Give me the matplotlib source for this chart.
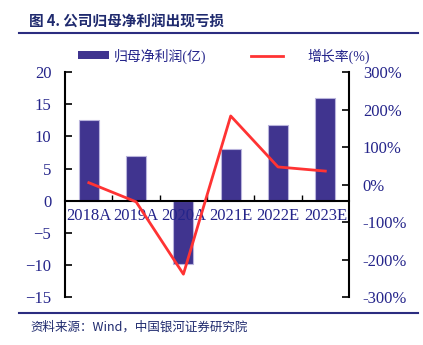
import matplotlib
matplotlib.use("Agg")
import matplotlib.pyplot as plt
from matplotlib.lines import Line2D
from matplotlib.patches import Patch
from matplotlib.ticker import FuncFormatter

plt.rcParams['font.family'] = ['Liberation Serif', 'Noto Sans CJK SC', 'DejaVu Sans']

years = ['2018A', '2019A', '2020A', '2021E', '2022E', '2023E']
profit = [12.6, 6.9, -9.8, 8.1, 11.8, 16.0]      # 归母净利润(亿)
growth = [5, -46, -239, 183, 47, 36]             # 增长率(%)

navy = '#24248a'
bar_c = '#40348f'
red = '#ff3333'

fig = plt.figure(figsize=(4.23, 3.45), dpi=100)
ax = fig.add_axes([0.154, 0.139, 0.671, 0.652])
ax2 = ax.twinx()

x = list(range(len(years)))
ax.bar(x, profit, width=0.42, color=bar_c, edgecolor='#b9b4dc', linewidth=0.8, zorder=2)
ax2.plot(x, growth, color=red, lw=2, zorder=3)
ax.set_axisbelow(False)  # category labels sit on top of the bars

ax.set_xlim(-0.5, len(years) - 0.5)
ax.set_ylim(-15, 20)
ax.set_yticks(range(-15, 21, 5))
ax2.set_ylim(-300, 300)
ax2.set_yticks(range(-300, 301, 100))
ax2.yaxis.set_major_formatter(FuncFormatter(lambda v, p: '%d%%' % v))

ax.spines['top'].set_visible(False)
ax2.spines['top'].set_visible(False)
ax2.spines['bottom'].set_visible(False)
ax2.spines['left'].set_visible(False)
ax.spines['right'].set_visible(False)
ax.spines['bottom'].set_position(('data', 0))
for s in (ax.spines['left'], ax.spines['bottom'], ax2.spines['right']):
    s.set_linewidth(1.5)
    s.set_color('black')

ax.set_xticks(x)
ax.set_xticklabels(years)
ax.set_xticks([i + 0.5 for i in x[:-1]], minor=True)
ax.tick_params(axis='x', which='major', length=0, pad=5, labelsize=12, labelcolor=navy)
ax.tick_params(axis='x', which='minor', direction='in', length=4, width=1)
ax.tick_params(axis='y', direction='in', length=5, width=1.2, pad=10, labelsize=12, labelcolor=navy)
ax2.tick_params(axis='y', direction='in', length=5, width=1.2, pad=10, labelsize=12, labelcolor=navy)

# legend row above the plot
fig.legend(handles=[Patch(facecolor=bar_c, edgecolor='none')], labels=['归母净利润(亿)'],
           loc='center left', bbox_to_anchor=(0.155, 0.838), frameon=False,
           handlelength=2.2, handleheight=0.5, handletextpad=0.4,
           prop={'family': ['Liberation Serif', 'Noto Sans CJK SC'], 'size': 10}, labelcolor=navy)
fig.legend(handles=[Line2D([], [], color=red, lw=2)], labels=['增长率(%)'],
           loc='center left', bbox_to_anchor=(0.565, 0.838), frameon=False,
           handlelength=2.3, handletextpad=1.7,
           prop={'family': ['Liberation Serif', 'Noto Sans CJK SC'], 'size': 10}, labelcolor=navy)

# header and footer
fig.text(0.069, 0.936, '图 4. 公司归母净利润出现亏损', fontsize=10.5, fontweight='bold',
         color='#1f2a6e', va='center', family=['Noto Sans CJK SC', 'DejaVu Sans'])
fig.add_artist(Line2D([0.045, 0.988], [0.904, 0.904], color='#2b2d80', lw=1.5))
fig.add_artist(Line2D([0.045, 0.988], [0.093, 0.093], color='#2b2d80', lw=1.5))
fig.text(0.071, 0.052, '资料来源：Wind，中国银河证券研究院', fontsize=9, style='italic',
         color='#1f2a6e', va='center', family=['Noto Sans CJK SC', 'DejaVu Sans'])

fig.savefig('out.png', dpi=100)
